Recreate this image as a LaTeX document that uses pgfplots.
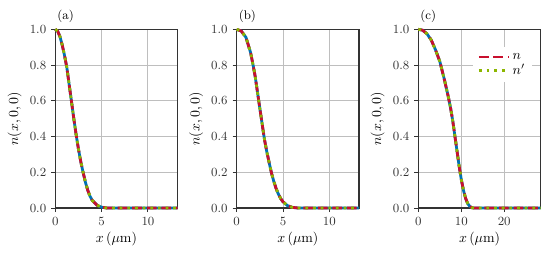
\documentclass[border=0pt]{standalone}
\usepackage{pgfplots}
\usepackage{pgfplotstable}
\pgfplotsset{compat=1.18}
\definecolor{cred}{RGB}{200,16,46}
\definecolor{cgreen}{RGB}{140,182,0}
\definecolor{cblue}{RGB}{0,114,178}
\definecolor{spine}{RGB}{51,51,51}
\definecolor{gridc}{RGB}{190,190,190}
\pgfplotsset{
  panel/.style={
    scale only axis, width=88.1pt, height=128.7pt,
    ymin=0, ymax=1, xmin=0,
    ytick={0,0.2,0.4,0.6,0.8,1.0},
    yticklabel style={/pgf/number format/.cd, fixed, fixed zerofill, precision=1},
    grid=major,
    major grid style={gridc, line width=0.7pt},
    axis line style={spine, line width=1.1pt},
    tick style={spine, line width=0.7pt},
    tick align=outside, major tick length=3pt,
    xtick pos=bottom, ytick pos=left,
    ticklabel style={font=\fontsize{9}{10}\selectfont, text=spine},
    label style={font=\fontsize{10}{11}\selectfont},
    xlabel={$x\,(\mu\mathrm{m})$},
    ylabel={$n(x,0,0)$},
    ylabel style={yshift=-1pt},
    xlabel style={yshift=2pt},
    title style={at={(0,1)}, anchor=south west, font=\fontsize{9}{10}\selectfont, yshift=-4.5pt, xshift=-2pt},
    clip=false,
  },
  bl/.style={cblue, line width=2pt, forget plot},
  rd/.style={cred, line width=2pt, dash pattern=on 7pt off 3.5pt},
  gr/.style={cgreen, line width=2pt, dash pattern=on 2pt off 3.5pt},
}
\pgfplotstableread{
x y
0 1.000
0.25 0.990
0.5 0.960
0.75 0.912
1.0 0.853
1.25 0.785
1.5 0.690
1.75 0.595
2.0 0.500
2.25 0.410
2.5 0.330
2.75 0.260
3.0 0.200
3.25 0.145
3.5 0.100
3.75 0.066
4.0 0.042
4.5 0.016
5.0 0.005
5.5 0.001
6.0 0
13.2 0
}\dataA
\pgfplotstableread{
x y
0 1.000
0.5 0.990
1.0 0.955
1.5 0.870
1.77 0.800
2.0 0.735
2.38 0.600
2.5 0.557
2.75 0.470
3.0 0.383
3.25 0.315
3.5 0.255
3.75 0.197
4.0 0.150
4.25 0.110
4.5 0.078
4.75 0.053
5.0 0.035
5.5 0.013
6.0 0.004
6.5 0.001
7.0 0
13.2 0
}\dataB
\pgfplotstableread{
x y
0 1.000
1 0.995
2 0.975
3 0.940
4 0.885
5 0.820
6 0.725
7 0.620
7.5 0.560
8 0.490
8.5 0.405
9 0.320
9.5 0.235
10 0.160
10.5 0.100
11 0.055
11.5 0.025
12 0.009
12.5 0.002
13 0
28.5 0
}\dataC
\begin{document}
\begin{tikzpicture}
\begin{axis}[panel, at={(0,0)}, xmax=13.2, xtick={0,5,10}, title={(a)}]
\addplot[bl] table {\dataA};
\addplot[rd] table {\dataA};
\addplot[gr] table {\dataA};
\end{axis}
\begin{axis}[panel, at={(130.6pt,0)}, xmax=13.2, xtick={0,5,10}, title={(b)}]
\addplot[bl] table {\dataB};
\addplot[rd] table {\dataB};
\addplot[gr] table {\dataB};
\end{axis}
\begin{axis}[panel, at={(261.4pt,0)}, xmax=28.5, xtick={0,10,20}, title={(c)},
  legend style={at={(0.93,0.9)}, anchor=north east, draw=none, fill=white,
    font=\fontsize{10}{11}\selectfont, row sep=-2pt},
  legend cell align=left,
  legend image code/.code={\draw[#1] (0pt,0pt) -- (0.75cm,0pt);}]
\addplot[bl] table {\dataC};
\addplot[rd] table {\dataC};
\addlegendentry{$n$}
\addplot[gr] table {\dataC};
\addlegendentry{$n'$}
\end{axis}
\pgfresetboundingbox
\path (-39.8pt,-35.3pt) rectangle (356.9pt,149.8pt);
\end{tikzpicture}
\end{document}
